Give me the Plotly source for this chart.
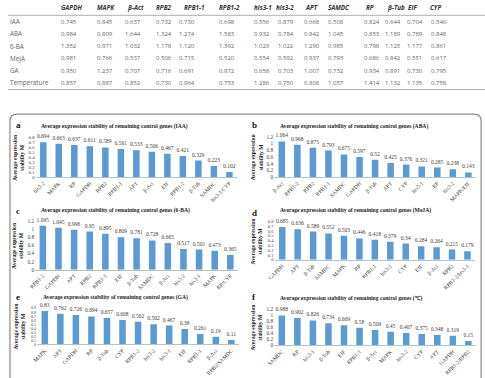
import plotly.graph_objects as go

W, H = 485, 378

# ---------------- data ----------------
table_genes = ["GAPDH", "MAPK", "β-Act", "RPB2", "RPB1-1", "RPB1-2", "his3-1", "his3-2",
               "APT", "SAMDC", "RP", "β-Tub", "EIF", "CYP"]
table_rows = ["IAA", "ABA", "6-BA", "MeJA", "GA", "Temperature"]
iaa_row = [0.745, 0.845, 0.637, 0.732, 0.730, 0.698, 0.556, 0.879, 0.668, 0.508, 0.824, 0.644, 0.704, 0.546]
aba_row = [0.984, 0.809, 1.644, 1.324, 1.274, 1.583, 0.932, 0.784, 0.842, 1.045, 0.853, 1.189, 0.789, 0.848]
ba_row = [1.352, 0.971, 1.032, 1.178, 1.120, 1.392, 1.023, 1.022, 1.290, 0.985, 0.798, 1.125, 1.177, 0.861]
meja_row = [0.981, 0.766, 0.537, 0.506, 0.715, 0.520, 0.554, 0.592, 0.937, 0.793, 0.686, 0.842, 0.551, 0.617]
ga_row = [0.950, 1.237, 0.707, 0.716, 0.691, 0.872, 0.658, 0.703, 1.007, 0.732, 0.934, 0.891, 0.730, 0.795]
temp_row = [0.857, 0.887, 0.852, 0.730, 0.964, 0.753, 1.286, 0.750, 0.808, 1.057, 1.414, 1.132, 1.135, 0.758]
table_values = [iaa_row, aba_row, ba_row, meja_row, ga_row, temp_row]

a_genes = ["his3-2", "MAPK", "RP", "GAPDH", "RPB2", "RPB1-1", "APT", "β-Act", "EIF", "RPB1-2", "β-Tub", "SAMDC", "his3-1/CYP"]
a_vals = [0.694, 0.663, 0.637, 0.611, 0.589, 0.561, 0.533, 0.506, 0.467, 0.421, 0.329, 0.223, 0.102]
b_genes = ["β-Act", "RPB1-2", "RPB2", "RPB1-1", "SAMDC", "GAPDH", "β-Tub", "APT", "CYP", "his3-1", "RP", "his3-2", "MAPK/EIF"]
b_vals = [1.064, 0.968, 0.875, 0.793, 0.675, 0.597, 0.52, 0.425, 0.376, 0.321, 0.285, 0.238, 0.143]
c_genes = ["RPB1-2", "GAPDH", "APT", "RPB2", "RPB1-1", "EIF", "β-Tub", "SAMDC", "β-Act", "his3-2", "his3-1", "MAPK", "RP/CYP"]
c_vals = [1.095, 1.045, 0.996, 0.95, 0.895, 0.809, 0.781, 0.728, 0.665, 0.517, 0.501, 0.473, 0.365]
d_genes = ["GAPDH", "APT", "β-Tub", "SAMDC", "MAPK", "RP", "RPB1-1", "his3-2", "CYP", "EIF", "β-Act", "RPB2", "RPB1-2/his3-1"]
d_vals = [0.685, 0.636, 0.589, 0.552, 0.503, 0.446, 0.418, 0.379, 0.34, 0.284, 0.264, 0.215, 0.179]
e_genes = ["MAPK", "APT", "GAPDH", "RP", "β-Tub", "CYP", "RPB1-2", "his3-2", "his3-1", "EIF", "RPB1-1", "β-Act", "RPB2/SAMDC"]
e_vals = [0.83, 0.762, 0.726, 0.694, 0.657, 0.608, 0.562, 0.502, 0.467, 0.38, 0.261, 0.19, 0.11]
f_genes = ["SAMDC", "RP", "his3-1", "β-Tub", "EIF", "RPB1-1", "β-Act", "MAPK", "his3-2", "CYP", "APT", "GAPDH", "RPB1-2/RPB2"]
f_vals = [0.988, 0.902, 0.826, 0.734, 0.669, 0.58, 0.509, 0.45, 0.407, 0.375, 0.348, 0.319, 0.15]

panel_letters = ["a", "b", "c", "d", "e", "f"]
panel_conditions = ["IAA", "ABA", "6-BA", "MeJA", "GA", "℃"]
panel_genes = [a_genes, b_genes, c_genes, d_genes, e_genes, f_genes]
panel_vals = [a_vals, b_vals, c_vals, d_vals, e_vals, f_vals]
panel_ymax = [0.8, 1.2, 1.2, 0.8, 0.9, 1.2]
panel_dtick = [0.1, 0.2, 0.2, 0.1, 0.1, 0.2]

# ---------------- layout helpers (pixel -> paper) ----------------
def X(px):
    return px / W

def Y(py):
    return 1 - py / H

# plot areas in pixels: (x0, x1, ytop, ybottom)
areas = [
    (28, 233, 136, 177),
    (270.5, 476, 136, 177),
    (27.5, 234, 222, 271),
    (271, 475, 222, 261),
    (29.5, 235, 310, 347),
    (270.5, 476, 311, 348),
]
tick_sizes = [4.8, 5.3, 5.3, 4.6, 4.0, 5.3]
letter_pos = [(6, 124), (246, 124), (6, 211), (246, 213), (6, 299), (246, 299)]

SERIF = "Liberation Serif"
SANS = "Open Sans"

fig = go.Figure()
annotations = []
shapes = []

# ---------------- table ----------------
header_x = [52, 88, 119, 148, 177, 212, 248, 270, 300, 323, 362, 383, 405, 427]
value_x = [52, 88, 117, 148, 172, 213, 248, 272, 299, 323, 360, 381, 404, 428]
row_y = [19, 31.4, 43.8, 56.2, 68.6, 81]
for g, hx in zip(table_genes, header_x):
    annotations.append(dict(x=X(hx), y=Y(4.5), xref="paper", yref="paper", text=f"<b><i>{g}</i></b>",
                            showarrow=False, xanchor="left", yanchor="middle",
                            font=dict(family=SANS, size=6.3, color="#333333")))
for r, vals, ry in zip(table_rows, table_values, row_y):
    annotations.append(dict(x=X(0), y=Y(ry), xref="paper", yref="paper", text=r,
                            showarrow=False, xanchor="left", yanchor="middle",
                            font=dict(family=SANS, size=6.3, color="#666666")))
    for v, vx in zip(vals, value_x):
        annotations.append(dict(x=X(vx), y=Y(ry), xref="paper", yref="paper", text=f"{v:.3f}",
                                showarrow=False, xanchor="left", yanchor="middle",
                                font=dict(family=SANS, size=6.0, color="#666666")))
for ly in (12.5, 88):
    shapes.append(dict(type="line", xref="paper", yref="paper", x0=0, x1=1, y0=Y(ly), y1=Y(ly),
                       line=dict(color="#9a9a9a", width=0.8)))

# rounded frame
bx0, bx1, by0, by1, rr = 2, 481, 113, 400, 7
path = (f"M {X(bx0)},{Y(by1)} L {X(bx0)},{Y(by0 + rr)} Q {X(bx0)},{Y(by0)} {X(bx0 + rr)},{Y(by0)} "
        f"L {X(bx1 - rr)},{Y(by0)} Q {X(bx1)},{Y(by0)} {X(bx1)},{Y(by0 + rr)} L {X(bx1)},{Y(by1)}")
shapes.append(dict(type="path", xref="paper", yref="paper", path=path,
                   line=dict(color="#8c8c8c", width=1.2)))

# ---------------- bar panels ----------------
for i in range(6):
    n = "" if i == 0 else str(i + 1)
    x0, x1, yt, yb = areas[i]
    fig.add_trace(go.Bar(
        x=panel_genes[i], y=panel_vals[i], xaxis="x" + n, yaxis="y" + n,
        marker=dict(color="#5b9bd5", line=dict(width=0)),
        text=[str(v) for v in panel_vals[i]], textposition="outside", constraintext="none",
        cliponaxis=False, textfont=dict(family=SERIF, size=5.5, color="#404040"),
        showlegend=False, hoverinfo="skip",
    ))
    fig.layout["xaxis" + n] = dict(
        domain=[X(x0), X(x1)], anchor="y" + n, type="category", tickangle=-45,
        tickfont=dict(family=SERIF, size=5.5, color="#404040"), showline=True,
        linecolor="#bfbfbf", linewidth=0.8, ticks="", showgrid=False, zeroline=False,
        fixedrange=True,
    )
    fig.layout["yaxis" + n] = dict(
        domain=[Y(yb), Y(yt)], anchor="x" + n, range=[0, panel_ymax[i]], dtick=panel_dtick[i],
        tick0=0, tickfont=dict(family=SERIF, size=tick_sizes[i], color="#404040"), showgrid=False,
        zeroline=False, showline=False, ticks="", ticklen=0, fixedrange=True,
    )
    # panel letter
    lx, ly = letter_pos[i]
    annotations.append(dict(x=X(lx), y=Y(ly), xref="paper", yref="paper", text=f"<b>{panel_letters[i]}</b>",
                            showarrow=False, xanchor="left", yanchor="middle",
                            font=dict(family=SERIF, size=9, color="#111111")))
    # title
    annotations.append(dict(x=X(x0 + 4), y=Y(yt - 11), xref="paper", yref="paper",
                            text=f"<b>Average expression stability of remaining control genes ({panel_conditions[i]})</b>",
                            showarrow=False, xanchor="left", yanchor="middle",
                            font=dict(family=SERIF, size=5.6, color="#222222")))
    # y-axis title
    annotations.append(dict(x=X(x0 - 18), y=Y((yt + yb) / 2), xref="paper", yref="paper",
                            text="<b>Average expression<br>stability M</b>", textangle=-90,
                            showarrow=False, xanchor="center", yanchor="middle",
                            font=dict(family=SERIF, size=5.6, color="#222222")))

fig.update_layout(
    width=W, height=H, margin=dict(l=0, r=0, t=0, b=0),
    paper_bgcolor="white", plot_bgcolor="white",
    bargap=0.58, annotations=annotations, shapes=shapes,
)
fig.write_html("out.html")
